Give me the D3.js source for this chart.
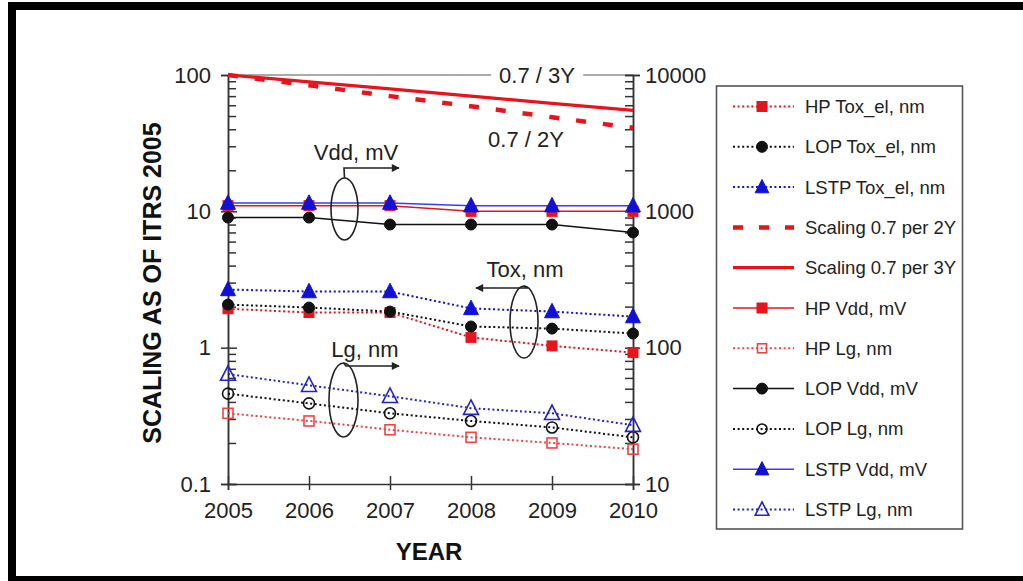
<!DOCTYPE html>
<html>
<head>
<meta charset="utf-8">
<script src="https://cdn.jsdelivr.net/npm/d3@7/dist/d3.min.js"></script>
<style>
html,body{margin:0;padding:0;background:#fff;}
svg{display:block;}
</style>
</head>
<body>
<div id="chart"></div>
<script>
// data
var years=[2005,2006,2007,2008,2009,2010];
var scale2Y=[100,84,70,59,49,41];		//Scaling 0.7 per 2Y
var scale3Y=[100,89,79,70,62,55];		//Scaling 0.7 per 3Y
var hpVdd=[1100,1100,1100,1000,1000,1000];	//mV, right axis
var lopVdd=[900,900,800,800,800,700];
var lstpVdd=[1150,1150,1150,1100,1100,1100];
var hpTox=[1.93,1.81,1.81,1.19,1.03,0.92];	//nm, left axis
var lopTox=[2.07,1.97,1.84,1.43,1.38,1.27];
var lstpTox=[2.67,2.58,2.58,1.94,1.84,1.69];
var hpLg=[0.33,0.29,0.25,0.22,0.20,0.18];
var lopLg=[0.46,0.39,0.33,0.29,0.26,0.22];
var lstpLg=[0.64,0.53,0.44,0.36,0.33,0.27];
var leftTicks=[100,10,1,0.1];
var leftLabels=['100','10','1','0.1'];
var rightTicks=[10000,1000,100,10];
var rightLabels=['10000','1000','100','10'];
var legendNames=['HP Tox_el, nm','LOP Tox_el, nm','LSTP Tox_el, nm','Scaling 0.7 per 2Y','Scaling 0.7 per 3Y',
	'HP Vdd, mV','HP Lg, nm','LOP Vdd, mV','LOP Lg, nm','LSTP Vdd, mV','LSTP Lg, nm'];

var W=1023,H=581,
	FONT='"Liberation Sans", Arial, sans-serif',
	RED='#e8141c',BLUE='#1010d8',BLACK='#111';

var svg=d3.select('#chart').append('svg')
	.attr('width',W).attr('height',H)
	.attr('font-family',FONT);

// black frame of the scan
svg.append('rect').attr('x',8).attr('y',2).attr('width',W-8).attr('height',8).attr('fill','#000');
svg.append('rect').attr('x',8).attr('y',2).attr('width',8).attr('height',H-2).attr('fill','#000');
svg.append('rect').attr('x',8).attr('y',576).attr('width',W-8).attr('height',5).attr('fill','#000');

var x=d3.scaleLinear().domain([2005,2010]).range([228,633]);
var y=d3.scaleLog().domain([0.1,100]).range([484,75]);
var yR=d3.scaleLog().domain([10,10000]).range([484,75]);

// minor ticks
function minors(lo,hi){
	var arr=[],d,k;
	for(d=lo; d<hi; d*=10){
		for(k=2;k<10;k++) arr.push(d*k)
	}
	return arr
}

// top grey line
svg.append('line').attr('x1',x(2005)).attr('x2',x(2010)).attr('y1',y(100)).attr('y2',y(100))
	.attr('stroke','#aaa').attr('stroke-width',2);

// left axis: minor ticks inside, major ticks crossing
var gL=svg.append('g').attr('transform','translate('+x(2005)+',0)');
gL.append('g').call(d3.axisRight(y).tickValues(minors(0.1,100)).tickSize(8).tickFormat(''));
var gL2=gL.append('g').call(d3.axisLeft(y).tickValues(leftTicks).tickSize(7).tickFormat(function(d,i){return leftLabels[i]}));
gL2.selectAll('.tick line').attr('x1',9);
gL.selectAll('.tick line').attr('stroke','#333').attr('stroke-width',1.5);
gL.selectAll('.domain').attr('stroke','#333').attr('stroke-width',1.5);
gL2.selectAll('text').attr('font-size',22).attr('font-family',FONT).attr('fill','#222')
	.attr('x',-17).attr('text-anchor','end');

// right axis
var gR=svg.append('g').attr('transform','translate('+x(2010)+',0)');
gR.append('g').call(d3.axisLeft(yR).tickValues(minors(10,10000)).tickSize(8).tickFormat(''));
var gR2=gR.append('g').call(d3.axisRight(yR).tickValues(rightTicks).tickSize(7).tickFormat(function(d,i){return rightLabels[i]}));
gR2.selectAll('.tick line').attr('x1',-8);
gR.selectAll('.tick line').attr('stroke','#333').attr('stroke-width',1.5);
gR.selectAll('.domain').attr('stroke','#333').attr('stroke-width',1.5);
gR2.selectAll('text').attr('font-size',22).attr('font-family',FONT).attr('fill','#222')
	.attr('x',12).attr('text-anchor','start');

// bottom axis
var gB=svg.append('g').attr('transform','translate(0,'+y(0.1)+')');
gB.call(d3.axisBottom(x).tickValues(years).tickSize(6).tickFormat(d3.format('d')));
gB.selectAll('.tick line').attr('y1',-8).attr('stroke','#333').attr('stroke-width',1.5);
gB.select('.domain').attr('stroke','#333').attr('stroke-width',1.5);
gB.selectAll('text').attr('font-size',22).attr('font-family',FONT).attr('fill','#222').attr('y',18);

// axis titles
svg.append('text').text('YEAR').attr('x',429).attr('y',560).attr('text-anchor','middle')
	.attr('font-size',24).attr('font-weight','bold').attr('fill','#111');
svg.append('text').text('SCALING AS OF ITRS 2005')
	.attr('transform','translate(161,283) rotate(-90)').attr('text-anchor','middle')
	.attr('font-size',25).attr('font-weight','bold').attr('fill','#111');

// series
var series=[
	{v:scale3Y, s:y, color:RED, w:3.2, dash:null, mark:null},
	{v:scale2Y, s:y, color:RED, w:4.5, dash:'10,17', mark:null},
	{v:hpVdd, s:yR, color:RED, w:1.5, dash:null, mark:'square', fill:true},
	{v:lopVdd, s:yR, color:BLACK, w:1.5, dash:null, mark:'circle', fill:true},
	{v:lstpVdd, s:yR, color:'#3c3cf0', w:1.5, dash:null, mark:'triangle', fill:true, mcolor:BLUE},
	{v:hpTox, s:y, color:RED, w:2, dash:'2,2.6', mark:'square', fill:true},
	{v:lopTox, s:y, color:BLACK, w:2, dash:'2,2.6', mark:'circle', fill:true},
	{v:lstpTox, s:y, color:BLUE, w:2, dash:'2,2.6', mark:'triangle', fill:true},
	{v:hpLg, s:y, color:'#ee4444', w:2, dash:'2,2.6', mark:'square', fill:false},
	{v:lopLg, s:y, color:BLACK, w:2, dash:'2,2.6', mark:'circle', fill:false},
	{v:lstpLg, s:y, color:'#2222cc', w:2, dash:'2,2.6', mark:'triangle', fill:false}
];

function marker(g,type,cx,cy,color,fill,size){
	var m;
	if(type=='square'){
		m=g.append('rect').attr('x',cx-size/2).attr('y',cy-size/2).attr('width',size).attr('height',size)
	}else if(type=='circle'){
		m=g.append('circle').attr('cx',cx).attr('cy',cy).attr('r',size*0.55)
	}else{
		var h=size*1.15;
		m=g.append('path').attr('d','M'+cx+','+(cy-h*0.6)+'L'+(cx+size*0.62)+','+(cy+h*0.45)+'L'+(cx-size*0.62)+','+(cy+h*0.45)+'Z')
	}
	if(fill){
		m.attr('fill',color).attr('stroke',color).attr('stroke-width',1)
	}else{
		m.attr('fill','none').attr('stroke',color).attr('stroke-width',1.6)
	}
}

var gLines=svg.append('g'),gMarks=svg.append('g');
series.forEach(function(o){
	var line=d3.line().x(function(d,i){return x(years[i])}).y(function(d){return o.s(d)});
	var p=gLines.append('path').attr('d',line(o.v)).attr('fill','none')
		.attr('stroke',o.color).attr('stroke-width',o.w);
	if(o.dash) p.attr('stroke-dasharray',o.dash);
	if(o.mark){
		o.v.forEach(function(d,i){
			marker(gMarks,o.mark,x(years[i]),o.s(d),o.mcolor||o.color,o.fill,o.mark=='triangle'?12:10)
		})
	}
});

// labels on the scaling lines
var gT=svg.append('g');
var t3=gT.append('text').text('0.7 / 3Y').attr('x',537).attr('y',83).attr('text-anchor','middle')
	.attr('font-size',22).attr('fill','#222');
var bb=t3.node().getBBox();
gT.insert('rect',function(){return t3.node()}).attr('x',bb.x-8).attr('y',y(100)-3)
	.attr('width',bb.width+16).attr('height',6).attr('fill','#fff');
gT.append('text').text('0.7 / 2Y').attr('x',526).attr('y',147).attr('text-anchor','middle')
	.attr('font-size',22).attr('fill','#222');

// ellipse + arrow annotations
svg.append('defs').append('marker').attr('id','arr').attr('viewBox','0 0 10 10')
	.attr('refX',9).attr('refY',5).attr('markerWidth',9).attr('markerHeight',8).attr('markerUnits','userSpaceOnUse')
	.attr('orient','auto').append('path').attr('d','M0,0L10,5L0,10Z').attr('fill','#222');

var notes=[
	{text:'Vdd, mV', tx:356, ty:160, ex:344.5, ey:209, rx:13.5, ry:31, ax1:344, ax2:399, ay:168},
	{text:'Tox, nm', tx:525, ty:277, ex:524, ey:322, rx:14, ry:36, ax1:528, ax2:476, ay:288},
	{text:'Lg, nm', tx:365, ty:357, ex:343.5, ey:400, rx:14.5, ry:37, ax1:346, ax2:399, ay:366}
];
var gN=svg.append('g');
notes.forEach(function(n){
	gN.append('text').text(n.text).attr('x',n.tx).attr('y',n.ty).attr('text-anchor','middle')
		.attr('font-size',22).attr('fill','#222');
	gN.append('ellipse').attr('cx',n.ex).attr('cy',n.ey).attr('rx',n.rx).attr('ry',n.ry)
		.attr('fill','none').attr('stroke','#222').attr('stroke-width',1.6);
	gN.append('path').attr('d','M'+n.ex+','+(n.ey-n.ry)+'L'+n.ax1+','+n.ay+'L'+n.ax2+','+n.ay)
		.attr('fill','none').attr('stroke','#222').attr('stroke-width',1.6).attr('marker-end','url(#arr)');
});

// legend
var legendOrder=[5,6,7,1,0,2,8,3,9,4,10];	//index into series
var gLeg=svg.append('g');
gLeg.append('rect').attr('x',716.5).attr('y',86).attr('width',246).attr('height',443)
	.attr('fill','#fff').attr('stroke','#555').attr('stroke-width',1.6);
legendNames.forEach(function(name,i){
	var o=series[legendOrder[i]],ly=106.5+40.3*i;
	var p=gLeg.append('line').attr('x1',733).attr('x2',794).attr('y1',ly).attr('y2',ly)
		.attr('stroke',o.color).attr('stroke-width',o.w);
	if(o.dash) p.attr('stroke-dasharray',o.dash=='10,17'?'10,16':o.dash);
	if(o.mark) marker(gLeg,o.mark,762,ly,o.mcolor||o.color,o.fill,o.mark=='triangle'?11:(o.fill?10:9));
	gLeg.append('text').text(name).attr('x',805).attr('y',ly+6.5)
		.attr('font-size',18.5).attr('fill','#222');
});
</script>
</body>
</html>
